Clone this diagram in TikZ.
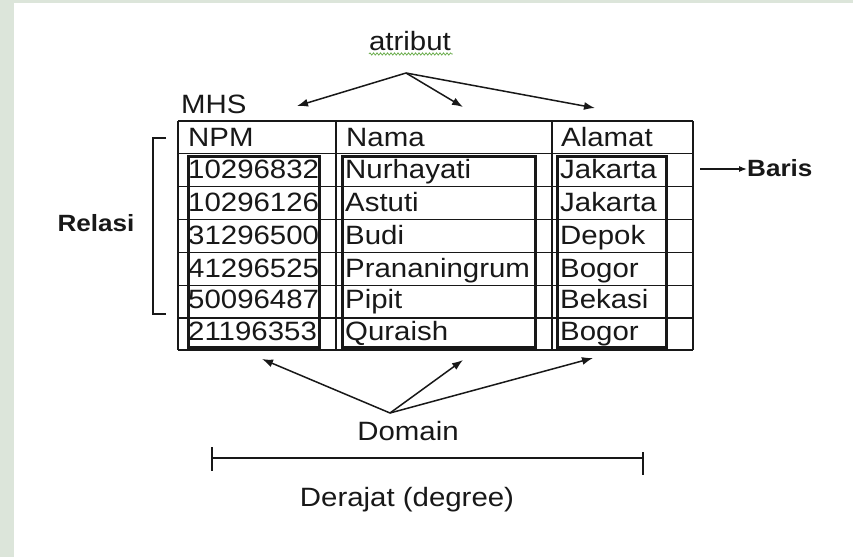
\documentclass[tikz,border=0pt]{standalone}
\usepackage{fontspec}
\setmainfont[FakeStretch=1.11]{Liberation Sans}
\usetikzlibrary{arrows.meta,decorations.pathmorphing}

\definecolor{frame}{RGB}{220,229,218}
\definecolor{ink}{RGB}{24,24,24}
\definecolor{spell}{RGB}{110,175,80}

\tikzset{
  txt/.style={inner sep=0pt, text=ink, font=\fontsize{26.5}{30}\selectfont},
  celltxt/.style={txt, anchor=base west},
  boldtxt/.style={inner sep=0pt, text=ink, font=\fontsize{23.5}{28}\selectfont\bfseries},
  gridline/.style={draw=ink, line width=1.4pt},
  domainbox/.style={draw=ink, line width=3pt},
  pointer/.style={draw=ink, line width=1.5pt, -{Latex[length=11pt,width=8pt]}},
  bar/.style={draw=ink, line width=1.4pt}
}

\begin{document}
\begin{tikzpicture}[x=1pt,y=-1pt]
  % page background with the grey-green frame on the left and top
  \fill[frame] (0,0) rectangle (853,557);
  \fill[white] (14,3) rectangle (853,557);
  \useasboundingbox (0,0) rectangle (853,557);

  % table grid
  \foreach \yy in {121,153.5,186.5,219.5,252.5,285.5,318,350}
    \draw[gridline] (178,\yy) -- (693,\yy);
  \foreach \xx in {178,336,552,693}
    \draw[gridline] (\xx,121) -- (\xx,350);

  % domain boxes around each column of values
  \draw[domainbox] (188,156) rectangle (319,347);
  \draw[domainbox] (342,156) rectangle (535,347);
  \draw[domainbox] (557,156) rectangle (666,347);

  % relation name and column headers
  \node[celltxt] (mhs) at (181,113) {MHS};
  \node[celltxt] (hnpm) at (188,146) {NPM};
  \node[celltxt] (hnama) at (346,146) {Nama};
  \node[celltxt] (halamat) at (561,146) {Alamat};

  % rows
  \node[celltxt] (n1) at (188,178) {10296832};
  \node[celltxt] (m1) at (345,178) {Nurhayati};
  \node[celltxt] (a1) at (560,178) {Jakarta};

  \node[celltxt] (n2) at (188,211.5) {10296126};
  \node[celltxt] (m2) at (345,211.5) {Astuti};
  \node[celltxt] (a2) at (560,211.5) {Jakarta};

  \node[celltxt] (n3) at (188,244.5) {31296500};
  \node[celltxt] (m3) at (345,244.5) {Budi};
  \node[celltxt] (a3) at (560,244.5) {Depok};

  \node[celltxt] (n4) at (188,277.5) {41296525};
  \node[celltxt] (m4) at (345,277.5) {Prananingrum};
  \node[celltxt] (a4) at (560,277.5) {Bogor};

  \node[celltxt] (n5) at (188,308.5) {50096487};
  \node[celltxt] (m5) at (345,308.5) {Pipit};
  \node[celltxt] (a5) at (560,308.5) {Bekasi};

  \node[celltxt] (n6) at (188,340) {21196353};
  \node[celltxt] (m6) at (345,340) {Quraish};
  \node[celltxt] (a6) at (560,340) {Bogor};

  % attribute label with its pointers
  \node[txt, anchor=base] (atribut) at (410,50) {atribut};
  \draw[spell, line width=0.8pt, decorate,
        decoration={snake, amplitude=1.1pt, segment length=3.5pt}]
    (atribut.south west) ++(0,3.5) -- ++(84,0);
  \coordinate (atrfrom) at (406,73);
  \coordinate (atr1) at (297,106);
  \coordinate (atr2) at (463,107);
  \coordinate (atr3) at (595,108);
  \draw[pointer] (atrfrom) -- (atr1);
  \draw[pointer] (atrfrom) -- (atr2);
  \draw[pointer] (atrfrom) -- (atr3);

  % row (tuple) marker
  \node[boldtxt, anchor=base west] (baris) at (747,176) {Baris};
  \coordinate (barisfrom) at (700,169);
  \draw[draw=ink, line width=1.2pt, -{Latex[length=8pt,width=6pt]}] (barisfrom) -- (baris.west |- barisfrom);

  % relation bracket
  \node[boldtxt, anchor=base] (relasi) at (96,231) {Relasi};
  \coordinate (brtop) at (166,138);
  \coordinate (brbot) at (166,314);
  \draw[bar, line width=1.3pt] (brtop) -- (153,138) -- (153,314) -- (brbot);

  % domain label with its pointers
  \node[txt, anchor=base] (domain) at (408,440) {Domain};
  \coordinate (domfrom) at (390,413);
  \coordinate (dom1) at (262,359);
  \coordinate (dom2) at (463,360);
  \coordinate (dom3) at (593,358);
  \draw[pointer] (domfrom) -- (dom1);
  \draw[pointer] (domfrom) -- (dom2);
  \draw[pointer] (domfrom) -- (dom3);

  % degree span
  \coordinate (degl) at (212,458);
  \coordinate (degr) at (643,458);
  \draw[bar] (degl) -- (degr);
  \draw[bar] (212,447) -- (212,471);
  \draw[bar] (643,452) -- (643,475);
  \node[txt, anchor=base] (derajat) at (407,506) {Derajat (degree)};
\end{tikzpicture}
\end{document}
